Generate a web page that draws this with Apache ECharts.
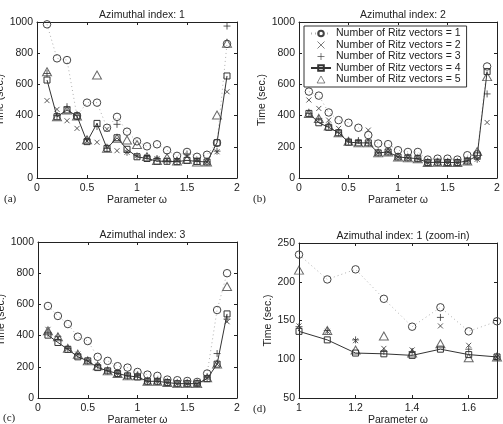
<!DOCTYPE html>
<html><head><meta charset="utf-8">
<script src="https://cdn.jsdelivr.net/npm/echarts@6/dist/echarts.min.js"></script>
<style>html,body{margin:0;padding:0;background:#fff}#c{width:503px;height:424px}</style>
</head><body><div id="c"></div>
<script>
const omega = [0.1,0.2,0.3,0.4,0.5,0.6,0.7,0.8,0.9,1.0,1.1,1.2,1.3,1.4,1.5,1.6,1.7,1.8,1.9];
const seriesNames = ['Number of Ritz vectors = 1','Number of Ritz vectors = 2','Number of Ritz vectors = 3','Number of Ritz vectors = 4','Number of Ritz vectors = 5'];
const panelTitles = ['Azimuthal index: 1','Azimuthal index: 2','Azimuthal index: 3','Azimuthal index: 1 (zoom-in)'];
const panelLabels = ['(a)','(b)','(c)','(d)'];

// Azimuthal index 1
const a1 = [985,767,756,398,483,483,322,392,297,235,203,216,178,142,167,136,149,225,860];
const a2 = [496,440,367,318,238,229,312,175,165,143,136,124,114,112,143,118,103,168,553];
const a3 = [670,400,457,402,245,330,190,344,165,142,137,125,110,110,154,113,103,172,974];
const a4 = [628,393,436,397,233,350,190,258,184,136,125,108,107,105,113,106,103,226,654];
const a5 = [681,393,436,397,245,660,190,255,244,215,137,112,130,108,120,102,103,404,863];
// Azimuthal index 2
const b1 = [554,528,420,371,354,322,275,221,217,178,167,167,118,124,124,118,146,152,715];
const b2 = [500,446,371,318,236,230,307,161,167,135,129,124,99,101,99,99,109,120,356];
const b3 = [414,382,333,290,236,240,225,161,167,135,129,124,99,101,99,99,109,120,539];
const b4 = [414,354,325,290,230,225,225,161,167,135,129,124,99,101,99,99,109,142,682];
const b5 = [414,382,333,290,236,225,225,161,167,135,129,124,99,101,99,99,109,170,650];
// Azimuthal index 3
const c1 = [590,526,474,393,365,264,238,204,195,167,150,142,118,114,109,103,157,564,800];
const c2 = [440,385,318,281,238,210,174,157,142,142,107,107,99,92,92,92,130,217,489];
const c3 = [415,393,318,281,238,210,174,157,142,142,107,107,99,92,92,92,130,285,506];
const c4 = [403,356,312,264,238,195,174,157,142,135,107,107,99,92,92,92,124,217,539];
const c5 = [431,393,318,281,238,206,174,157,142,142,107,107,99,92,92,92,130,217,715];

const panelData = [[a1,a2,a3,a4,a5],[b1,b2,b3,b4,b5],[c1,c2,c3,c4,c5],[a1,a2,a3,a4,a5]];

const FONT = "'Liberation Sans', Arial, Helvetica, sans-serif";
const FS = 10.5;
const grids = [
  {left:37, top:22, width:200, height:156},
  {left:299, top:22, width:198, height:156},
  {left:38, top:242, width:199, height:156},
  {left:299, top:243, width:198, height:155}
];
const xRanges = [[0,2,0.5],[0,2,0.5],[0,2,0.5],[1,1.7,0.2]];
const yRanges = [[0,1000,200],[0,1000,200],[0,1000,200],[50,250,50]];
const yNameGaps = [25,27,25,21];

const SYM_X = 'path://M0,0L10,10M0,10L10,0';
const SYM_P = 'path://M5,0L5,10M0,5L10,5';
const SYM_T = 'path://M5,0L10,9L0,9Z';

const xAxes = [], yAxes = [], series = [], titles = [], graphics = [];
const fmt = v => String(Math.round(v*100)/100);
grids.forEach((g, i) => {
  const [xmin,xmax,xint] = xRanges[i];
  const [ymin,ymax,yint] = yRanges[i];
  const common = {type:'value', gridIndex:i, axisLine:{show:true,onZero:false,lineStyle:{color:'#222',width:1}},
    axisTick:{show:true,inside:true,length:3,lineStyle:{color:'#222'}}, splitLine:{show:false}};
  xAxes.push(Object.assign({}, common, {min:xmin,max:xmax,interval:xint,position:'bottom',
    name:'Parameter ω', nameLocation:'middle', nameGap:17,
    nameTextStyle:{fontFamily:FONT,fontSize:FS,color:'#222'},
    axisLabel:{fontFamily:FONT,fontSize:FS,color:'#222',margin:5,formatter:fmt,showMaxLabel:i!==3}}));
  xAxes.push(Object.assign({}, common, {min:xmin,max:xmax,interval:xint,position:'top',axisLabel:{show:false}}));
  yAxes.push(Object.assign({}, common, {min:ymin,max:ymax,interval:yint,position:'left',
    name:'Time (sec.)', nameLocation:'middle', nameGap:yNameGaps[i],
    nameTextStyle:{fontFamily:FONT,fontSize:FS,color:'#222'},
    axisLabel:{fontFamily:FONT,fontSize:FS,color:'#222',margin:4,formatter:fmt}}));
  yAxes.push(Object.assign({}, common, {min:ymin,max:ymax,interval:yint,position:'right',axisLabel:{show:false}}));
  titles.push({text:panelTitles[i], left:g.left+g.width/2, top:g.top-17, textAlign:'center',
    textStyle:{fontFamily:FONT,fontSize:FS,fontWeight:'normal',color:'#222'}});
  const d = panelData[i];
  const pts = arr => omega.map((x,k)=>[x,arr[k]]);
  const xi = 2*i, yi = 2*i;
  series.push({name:seriesNames[0], type:'line', xAxisIndex:xi, yAxisIndex:yi, data:pts(d[0]),
    symbol:'circle', symbolSize:7.5, showAllSymbol:true,
    itemStyle:{color:'rgba(255,255,255,0)', borderColor:'#444', borderWidth:1},
    lineStyle:{color:'#b0b0b0', width:1, type:[1,3]}, emphasis:{disabled:true}, animation:false});
  series.push({name:seriesNames[1], type:'scatter', xAxisIndex:xi, yAxisIndex:yi, data:pts(d[1]),
    symbol:SYM_X, symbolSize:5,
    itemStyle:{color:'rgba(255,255,255,0)', borderColor:'#333', borderWidth:1}, emphasis:{disabled:true}, animation:false});
  series.push({name:seriesNames[2], type:'scatter', xAxisIndex:xi, yAxisIndex:yi, data:pts(d[2]),
    symbol:SYM_P, symbolSize:7,
    itemStyle:{color:'rgba(255,255,255,0)', borderColor:'#333', borderWidth:1}, emphasis:{disabled:true}, animation:false});
  series.push({name:seriesNames[3], type:'line', xAxisIndex:xi, yAxisIndex:yi, data:pts(d[3]),
    symbol:'rect', symbolSize:6, showAllSymbol:true,
    itemStyle:{color:'rgba(255,255,255,0)', borderColor:'#333', borderWidth:1},
    lineStyle:{color:'#333', width:1, type:'solid'}, emphasis:{disabled:true}, animation:false});
  series.push({name:seriesNames[4], type:'scatter', xAxisIndex:xi, yAxisIndex:yi, data:pts(d[4]),
    symbol:SYM_T, symbolSize:[9,8],
    itemStyle:{color:'rgba(255,255,255,0)', borderColor:'#444', borderWidth:1}, emphasis:{disabled:true}, animation:false});
});

const labelPos = [[4,194],[253,194],[3,413],[253,404]];
labelPos.forEach((p,i)=>{
  graphics.push({type:'text', left:p[0], top:p[1], style:{text:panelLabels[i], font:'11px "Liberation Serif"', fill:'#222'}});
});

const legendIcons = [null, SYM_X, SYM_P, null, SYM_T];
const legendData = seriesNames.map((n,k)=> legendIcons[k] ? {name:n, icon:legendIcons[k], itemStyle:{borderWidth:0.8}} : {name:n});

const chart = echarts.init(document.getElementById('c'), null, {renderer:'canvas'});
chart.setOption({
  animation:false,
  backgroundColor:'#fff',
  title:titles,
  grid:grids.map(g=>Object.assign({containLabel:false, outerBoundsMode:'none'}, g)),
  xAxis:xAxes,
  yAxis:yAxes,
  legend:{show:true, data:legendData, orient:'vertical', left:304, top:26,
    itemWidth:20, itemHeight:7, itemGap:0.5, padding:[2,6,2,6], selectedMode:false,
    symbolKeepAspect:true,
    borderColor:'#333', borderWidth:1, backgroundColor:'#fff',
    textStyle:{fontFamily:FONT, fontSize:FS, color:'#222'}},
  series:series,
  graphic:graphics
});
</script></body></html>
